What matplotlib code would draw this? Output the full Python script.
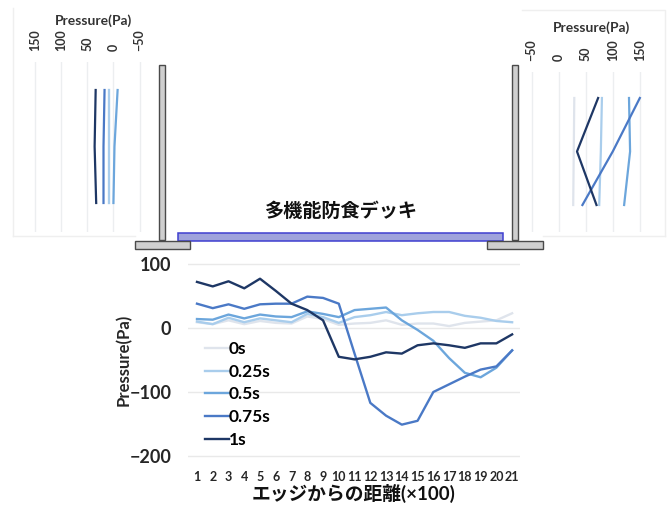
import matplotlib
matplotlib.use('Agg')
import matplotlib.pyplot as plt
from matplotlib.patches import Rectangle

plt.rcParams['font.family'] = ['Lato', 'Noto Sans CJK JP', 'DejaVu Sans']
plt.rcParams['font.weight'] = 'bold'
plt.rcParams['axes.labelweight'] = 'bold'

W, H = 671, 509

distance = list(range(1, 22))
series_names = ['0s', '0.25s', '0.5s', '0.75s', '1s']
colors = ['#DFE4EC', '#A9CDEC', '#6CA6DC', '#4A79C6', '#1E3765']

p_0s = [9, 6, 12, 6, 11, 8, 7, 18, 14, 5, 7, 8, 12, 5, 7, 7, 3, 8, 10, 12, 23]
p_025s = [10, 6, 16, 9, 15, 12, 9, 22, 17, 8, 17, 20, 25, 20, 23, 25, 25, 19, 16, 11, 9]
p_05s = [14, 13, 21, 15, 21, 18, 17, 26, 22, 17, 28, 30, 32, 12, -3, -20, -47, -70, -77, -62, -35]
p_075s = [38, 31, 37, 30, 37, 38, 38, 49, 47, 38, -40, -117, -137, -151, -145, -100, -88, -76, -65, -60, -35]
p_1s = [72, 65, 73, 62, 77, 58, 38, 28, 12, -45, -49, -45, -38, -40, -27, -24, -27, -31, -24, -24, -10]
main_series = [p_0s, p_025s, p_05s, p_075s, p_1s]

# side panels: three sensor heights, top to bottom
heights = [1, 2, 3]
left_0s = [8, 8, 8]
left_025s = [9, 9, 9]
left_05s = [-8, -2, 0]
left_075s = [17, 19, 19]
left_1s = [34, 36, 33]
right_0s = [29, 28, 27]
right_025s = [80, 78, 75]
right_05s = [130, 132, 121]
right_075s = [150, 100, 44]
right_1s = [73, 34, 70]
left_series = [left_0s, left_025s, left_05s, left_075s, left_1s]
right_series = [right_0s, right_025s, right_05s, right_075s, right_1s]
side_ticks = [-50, 0, 50, 100, 150]


def px_axes(fig, x0, y0, x1, y1):
    return fig.add_axes([x0 / W, 1 - y1 / H, (x1 - x0) / W, (y1 - y0) / H])


def side_panel(fig, x0, x1, y0, y1, top, bottom, series, xlim):
    ax = px_axes(fig, x0, y0, x1, y1)
    ax.patch.set_alpha(0)
    for vals, c in zip(series, colors):
        ax.plot(vals, heights, color=c, lw=1.6)
    ax.set_xlim(*xlim)
    # heights 1..3 span top..bottom px of the panel
    step = (bottom - top) / 2
    ax.set_ylim(3 + (y1 - bottom) / step, 1 - (top - y0) / step)
    ax.set_xticks(side_ticks)
    ax.xaxis.tick_top()
    ax.set_yticks([])
    ax.tick_params(axis='x', length=0, pad=8, labelsize=9, labelrotation=90, labelcolor='#333333')
    ax.grid(axis='x', color='#ECEEF0', lw=1)
    ax.set_axisbelow(True)
    for s in ax.spines.values():
        s.set_visible(False)
    return ax


fig = plt.figure(figsize=(W / 100, H / 100), dpi=100)

# background overlay for panels, deck and supports, in pixel coords
bg = fig.add_axes([0, 0, 1, 1], zorder=0)
bg.set_xlim(0, W)
bg.set_ylim(H, 0)
bg.axis('off')
bg.plot([13, 13], [8, 236], color='#EFEFEF', lw=1)
bg.plot([13, 135], [236, 236], color='#EFEFEF', lw=1)
bg.plot([522, 665, 665], [10, 10, 236], color='#EFEFEF', lw=1)
bg.plot([543, 665], [236, 236], color='#EFEFEF', lw=1)

fg = fig.add_axes([0, 0, 1, 1], zorder=5)
fg.set_xlim(0, W)
fg.set_ylim(H, 0)
fg.axis('off')
fg.patch.set_alpha(0)
grey = '#CFCFCF'
edge = '#4A4A4A'
fg.add_patch(Rectangle((177.5, 232.5), 325, 8, fc='#9FA3DC', ec='#3F3FCF', lw=1.1))
fg.add_patch(Rectangle((159, 65), 6, 175, fc=grey, ec=edge, lw=1))
fg.add_patch(Rectangle((512, 65), 6, 175, fc=grey, ec=edge, lw=1))
fg.add_patch(Rectangle((134.5, 240.5), 55, 8.5, fc=grey, ec=edge, lw=1))
fg.add_patch(Rectangle((487, 240.5), 55.5, 8.5, fc=grey, ec=edge, lw=1))
fg.text(341, 211, '多機能防食デッキ', ha='center', va='center', fontsize=13.8, color='#111111')
fg.text(93, 21, 'Pressure(Pa)', ha='center', va='center', fontsize=10, color='#333333')
fg.text(592, 28, 'Pressure(Pa)', ha='center', va='center', fontsize=10, color='#333333')

# left panel has its axis reversed (150 on the left)
side_panel(fig, 22, 150, 62, 232, 90, 203, left_series, (175, -70))
side_panel(fig, 525, 655, 72, 232, 98, 205, right_series, (-62, 178))

# main chart
ax = px_axes(fig, 188, 256, 520, 464)
for name, vals, c in zip(series_names, main_series, colors):
    ax.plot(distance, vals, color=c, lw=1.7, label=name)
ax.set_xlim(0.43, 21.5)
ax.set_ylim(-212.5, 112.5)
ax.set_xticks(distance)
ax.set_yticks([-200, -100, 0, 100])
ax.grid(axis='y', color='#E9E9E9', lw=1)
ax.set_axisbelow(True)
ax.tick_params(axis='both', length=0)
ax.tick_params(axis='y', labelsize=13, pad=12, labelcolor='#262626')
ax.tick_params(axis='x', labelsize=9, pad=5, labelcolor='#262626')
for s in ax.spines.values():
    s.set_visible(False)
ax.patch.set_alpha(0)
ax.set_ylabel('Pressure(Pa)', fontsize=12, color='#262626')
ax.yaxis.set_label_coords(-0.168, 0.5)
ax.set_xlabel('エッジからの距離(×100)', fontsize=13.5, labelpad=1, color='#111111')
ax.legend(loc='upper left', bbox_to_anchor=(0.05, 0.59), frameon=False,
          handlelength=1.4, handletextpad=0.0, labelspacing=0.38, borderpad=0, borderaxespad=0,
          prop={'size': 12.5, 'weight': 'bold'})

fig.savefig('out.png', dpi=100)
